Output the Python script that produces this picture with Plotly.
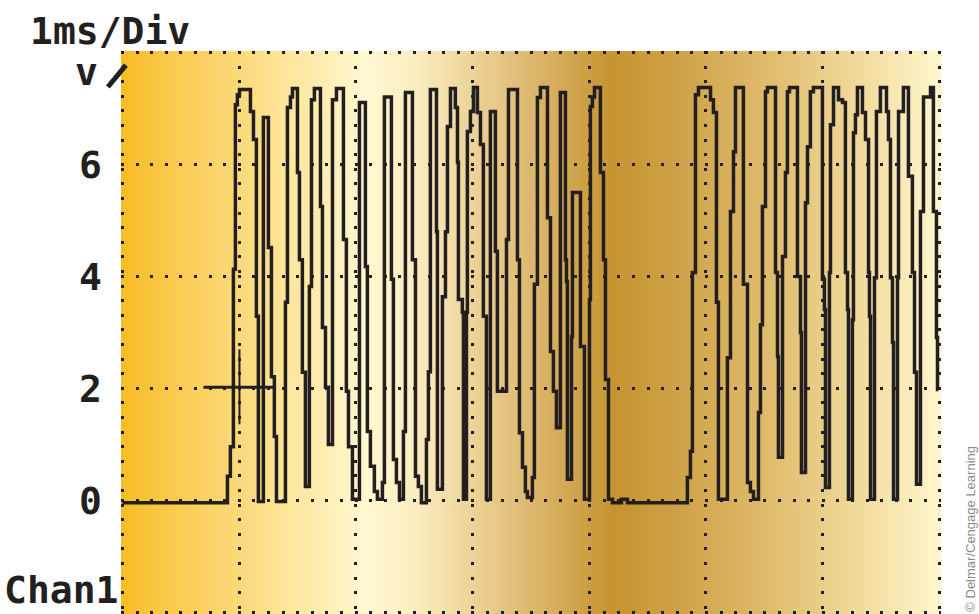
import base64
import plotly.graph_objects as go

# ---- waveform (time in ms, level in volts); each point = level from that time on ----
time_ms = [
    0.000, 0.900, 0.925, 0.951, 0.968, 0.985, 1.003, 1.097, 1.123, 1.148,
    1.165, 1.208, 1.251, 1.277, 1.302, 1.320, 1.397, 1.414, 1.440, 1.457,
    1.500, 1.517, 1.542, 1.568, 1.602, 1.620, 1.645, 1.697, 1.714, 1.740,
    1.765, 1.800, 1.834, 1.894, 1.919, 1.937, 1.971, 2.031, 2.082, 2.099,
    2.125, 2.159, 2.185, 2.228, 2.245, 2.305, 2.322, 2.348, 2.374, 2.408,
    2.425, 2.485, 2.511, 2.536, 2.562, 2.605, 2.622, 2.639, 2.691, 2.699,
    2.742, 2.768, 2.785, 2.811, 2.853, 2.871, 2.879, 2.913, 2.922, 2.948,
    2.956, 2.982, 3.008, 3.042, 3.068, 3.093, 3.119, 3.153, 3.196, 3.213,
    3.291, 3.308, 3.385, 3.402, 3.428, 3.453, 3.470, 3.513, 3.530, 3.556,
    3.582, 3.642, 3.668, 3.693, 3.719, 3.753, 3.796, 3.805, 3.813, 3.848,
    3.856, 3.925, 3.959, 4.002, 4.010, 4.027, 4.045, 4.096, 4.122, 4.139,
    4.165, 4.199, 4.276, 4.327, 4.841, 4.867, 4.884, 4.910, 4.936, 5.039,
    5.064, 5.090, 5.107, 5.184, 5.210, 5.236, 5.253, 5.321, 5.356, 5.381,
    5.407, 5.450, 5.467, 5.484, 5.510, 5.527, 5.596, 5.613, 5.621, 5.656,
    5.681, 5.698, 5.716, 5.784, 5.810, 5.818, 5.853, 5.870, 5.895, 5.921,
    5.998, 6.015, 6.024, 6.058, 6.067, 6.093, 6.136, 6.170, 6.195, 6.213,
    6.221, 6.255, 6.264, 6.281, 6.298, 6.341, 6.367, 6.393, 6.401, 6.410,
    6.444, 6.461, 6.495, 6.547, 6.564, 6.581, 6.598, 6.607, 6.641, 6.650,
    6.692, 6.735, 6.769, 6.787, 6.804, 6.838, 6.864, 6.924, 6.949, 6.975,
    6.984, 6.992,
]
volts = [
    -0.04, 0.43, 0.96, 4.13, 7.07, 7.25, 7.34, 6.95, 6.45, 3.29,
    -0.02, 6.84, 4.52, 2.21, 1.14, -0.02, 3.54, 7.02, 7.21, 7.36,
    5.86, 4.30, 2.29, 0.25, 3.82, 7.16, 7.36, 5.25, 3.09, 2.02,
    1.00, 7.16, 7.36, 4.66, 1.95, 0.96, 0.02, 7.11, 4.18, 1.23,
    0.61, 0.16, 0.02, 0.32, 7.21, 3.95, 0.73, 0.32, 0.02, 1.23,
    7.29, 4.30, 0.43, 0.25, -0.04, 1.09, 2.30, 7.34, 4.80, 0.20,
    3.64, 4.80, 6.68, 7.36, 7.02, 6.04, 3.59, 3.36, 0.02, 3.36,
    6.59, 6.95, 7.38, 6.93, 6.36, 3.29, 0.02, 6.95, 4.45, 1.95,
    4.66, 7.34, 4.30, 1.21, 0.59, 0.16, 0.05, 0.41, 3.86, 7.20,
    7.38, 5.05, 2.66, 1.95, 1.30, 7.29, 4.30, 3.91, 0.38, 2.93,
    5.50, 2.75, 0.02, 3.59, 7.04, 7.21, 7.38, 5.86, 4.30, 2.16,
    0.02, -0.04, 0.02, -0.04, 0.41, 0.88, 4.07, 7.25, 7.38, 7.16,
    6.93, 3.54, 0.02, 2.55, 5.16, 6.23, 7.38, 3.86, 0.32, 0.16,
    0.02, 1.57, 3.14, 5.25, 7.30, 7.38, 4.07, 2.57, 0.77, 4.36,
    5.86, 7.30, 7.38, 4.00, 3.00, 0.50, 5.32, 6.32, 7.30, 7.38,
    3.95, 3.41, 0.23, 4.07, 6.71, 7.38, 7.16, 7.11, 4.07, 3.41,
    0.02, 3.23, 6.57, 6.89, 7.38, 6.93, 6.45, 4.07, 3.29, 0.02,
    3.98, 6.95, 7.38, 6.95, 6.45, 3.98, 2.82, 0.02, 3.98, 6.95,
    7.38, 5.79, 4.07, 2.29, 0.29, 5.16, 7.21, 7.38, 5.16, 2.91,
    1.98, 1.98,
]

# trigger marker (cross)
trig_h_time = [0.694, 1.294]
trig_h_volts = [2.02, 2.02]
trig_v_time = [1.003, 1.003]
trig_v_volts = [1.36, 2.70]

# axes
x_grid_vals = [0, 1, 2, 3, 4, 5, 6, 7]
y_grid_vals = [-2, 0, 2, 4, 6, 8]
y_tick_text = ["", "0", "2", "4", "6", ""]

INK = "#231f20"
MONO = dict(family="DejaVu Sans Mono", size=38, color=INK, weight="bold")

# background gradient (horizontal) as an SVG image
stops = [
    (0.00, "#f7bd24"), (0.05, "#f9c745"), (0.15, "#fcdb7e"), (0.25, "#feeeb4"),
    (0.30, "#fff8d2"), (0.36, "#faedc0"), (0.45, "#e8cb8c"), (0.54, "#d3a956"),
    (0.60, "#c6942f"), (0.68, "#cfa249"), (0.80, "#e1be70"), (0.90, "#f1da9c"),
    (1.00, "#fff7cd"),
]
stop_xml = "".join(f"<stop offset='{o}' stop-color='{c}'/>" for o, c in stops)
svg = ("<svg xmlns='http://www.w3.org/2000/svg' width='820' height='563' "
       "preserveAspectRatio='none'><defs><linearGradient id='g' x1='0' x2='1' y1='0' y2='0'>"
       + stop_xml + "</linearGradient></defs><rect width='820' height='563' fill='url(#g)'/></svg>")
svg_uri = "data:image/svg+xml;base64," + base64.b64encode(svg.encode()).decode()

XR = [-0.012, 7.014]
YR = [-2.03, 8.03]

fig = go.Figure()
fig.add_trace(go.Scatter(x=time_ms, y=volts, mode="lines", line=dict(color=INK, width=3.5, shape="hv"),
                         hoverinfo="skip", showlegend=False))
fig.add_trace(go.Scatter(x=trig_h_time, y=trig_h_volts, mode="lines", line=dict(color=INK, width=3),
                         hoverinfo="skip", showlegend=False))
fig.add_trace(go.Scatter(x=trig_v_time, y=trig_v_volts, mode="lines", line=dict(color=INK, width=2),
                         hoverinfo="skip", showlegend=False))

grid_common = dict(showgrid=True, gridcolor=INK, gridwidth=3, griddash="3px,11.6px",
                   zeroline=False, showline=False, ticks="")
fig.update_xaxes(range=XR, tickmode="array", tickvals=x_grid_vals, showticklabels=False,
                 fixedrange=True, **grid_common)
fig.update_yaxes(range=YR, tickmode="array", tickvals=y_grid_vals, ticktext=y_tick_text,
                 tickfont=MONO, ticklabelstandoff=18, fixedrange=True, **grid_common)

fig.add_layout_image(dict(source=svg_uri, xref="x", yref="y", x=XR[0], y=YR[1],
                          sizex=XR[1] - XR[0], sizey=YR[1] - YR[0], sizing="stretch",
                          xanchor="left", yanchor="top", layer="below"))

annos = [
    dict(text="1ms/Div", x=-0.013, y=1.036, xref="paper", yref="paper",
         xanchor="center", yanchor="middle", showarrow=False, font=MONO),
    dict(text="v", x=-0.042, y=0.962, xref="paper", yref="paper",
         xanchor="center", yanchor="middle", showarrow=False, font=MONO),
    dict(text="Chan1", x=-0.145, y=0.0, xref="paper", yref="paper",
         xanchor="left", yanchor="bottom", showarrow=False, font=MONO),
    dict(text="© Delmar/Cengage Learning", x=1.035, y=0.0, xref="paper", yref="paper",
         xanchor="center", yanchor="bottom", textangle=-90, showarrow=False,
         font=dict(family="Liberation Sans", size=13, color="#8a8a8a")),
]
for a in annos:
    fig.add_annotation(**a)

fig.add_shape(type="line", xref="paper", yref="paper", x0=-0.016, y0=0.936, x1=0.006, y1=0.975,
              line=dict(color=INK, width=5))

fig.update_layout(width=979, height=614, margin=dict(l=121, r=38, t=51, b=0, pad=0),
                  paper_bgcolor="white", plot_bgcolor="rgba(0,0,0,0)", showlegend=False)

fig.write_html("out.html", config={"displayModeBar": False},
               post_script="document.body.style.margin='0px';document.body.style.overflow='hidden';")
